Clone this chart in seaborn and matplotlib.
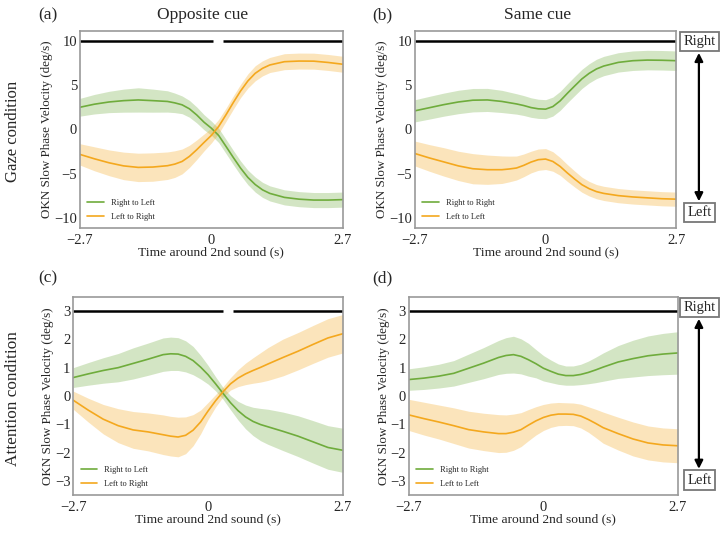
import numpy as np
import pandas as pd
import matplotlib
matplotlib.use("Agg")
import matplotlib.pyplot as plt
import seaborn as sns

# time points (s)
time = [-2.7, -2.4, -2.1, -1.8, -1.5, -1.2, -0.9, -0.75, -0.6, -0.45, -0.3, -0.15, 0.0,
        0.15, 0.3, 0.45, 0.6, 0.75, 0.9, 1.05, 1.2, 1.5, 1.8, 2.1, 2.4, 2.7]

# (a) gaze, opposite cue
a_green = [2.5, 2.85, 3.1, 3.25, 3.33, 3.25, 3.16, 3.0, 2.78, 2.33, 1.64, 0.82, 0.15,
           -0.67, -1.9, -3.15, -4.35, -5.4, -6.2, -6.8, -7.2, -7.65, -7.85, -7.95, -7.95, -7.9]
a_green_err = [1.0, 1.1, 1.2, 1.3, 1.37, 1.3, 1.2, 1.1, 1.0, 0.95, 0.9, 0.85, 0.8,
               0.8, 0.8, 0.8, 0.8, 0.82, 0.85, 0.85, 0.85, 0.85, 0.85, 0.85, 0.85, 0.85]
a_orange = [-2.8, -3.3, -3.75, -4.1, -4.27, -4.23, -4.08, -3.9, -3.6, -3.03, -2.28, -1.46, -0.67,
            0.34, 1.65, 3.03, 4.34, 5.47, 6.33, 6.89, 7.27, 7.64, 7.71, 7.7, 7.55, 7.35]
a_orange_err = [1.2, 1.35, 1.45, 1.55, 1.6, 1.6, 1.55, 1.5, 1.4, 1.25, 1.1, 0.95, 0.85,
                0.8, 0.75, 0.75, 0.75, 0.8, 0.85, 0.85, 0.85, 0.9, 0.9, 0.9, 0.9, 0.9]

# (b) gaze, same cue
b_green = [2.1, 2.45, 2.8, 3.1, 3.3, 3.33, 3.16, 3.02, 2.88, 2.7, 2.47, 2.33, 2.29,
           2.58, 3.22, 4.08, 4.9, 5.7, 6.33, 6.82, 7.15, 7.56, 7.75, 7.82, 7.8, 7.75]
b_green_err = [1.25, 1.28, 1.3, 1.32, 1.32, 1.3, 1.25, 1.2, 1.15, 1.12, 1.1, 1.08, 1.07,
               1.07, 1.07, 1.07, 1.08, 1.08, 1.08, 1.09, 1.09, 1.09, 1.1, 1.1, 1.1, 1.1]
b_orange = [-2.7, -3.2, -3.65, -4.1, -4.42, -4.53, -4.53, -4.45, -4.34, -4.04, -3.67, -3.4, -3.33,
            -3.6, -4.16, -4.9, -5.58, -6.22, -6.67, -7.0, -7.2, -7.45, -7.6, -7.7, -7.8, -7.85]
b_orange_err = [1.4, 1.5, 1.6, 1.65, 1.7, 1.65, 1.55, 1.45, 1.35, 1.28, 1.22, 1.2, 1.18,
                1.1, 1.0, 0.95, 0.9, 0.85, 0.82, 0.8, 0.8, 0.8, 0.8, 0.8, 0.8, 0.8]

# (c) attention, opposite cue
c_green = [0.65, 0.78, 0.9, 1.0, 1.15, 1.3, 1.46, 1.49, 1.48, 1.4, 1.25, 1.02, 0.75,
           0.43, 0.09, -0.24, -0.52, -0.74, -0.9, -1.01, -1.09, -1.25, -1.42, -1.62, -1.82, -1.92]
c_green_err = [0.35, 0.4, 0.45, 0.5, 0.55, 0.57, 0.59, 0.59, 0.58, 0.55, 0.5, 0.42, 0.33,
               0.25, 0.21, 0.25, 0.33, 0.42, 0.5, 0.57, 0.62, 0.68, 0.72, 0.75, 0.77, 0.78]
c_orange = [-0.15, -0.5, -0.82, -1.05, -1.2, -1.27, -1.37, -1.42, -1.45, -1.39, -1.21, -0.92, -0.53,
            -0.17, 0.15, 0.43, 0.63, 0.78, 0.9, 1.01, 1.13, 1.36, 1.58, 1.82, 2.05, 2.2]
c_orange_err = [0.32, 0.42, 0.52, 0.6, 0.65, 0.67, 0.7, 0.7, 0.7, 0.65, 0.55, 0.42, 0.3,
                0.22, 0.18, 0.22, 0.3, 0.38, 0.45, 0.52, 0.58, 0.65, 0.66, 0.67, 0.68, 0.68]

# (d) attention, same cue
d_green = [0.58, 0.63, 0.7, 0.8, 0.98, 1.16, 1.36, 1.43, 1.46, 1.4, 1.28, 1.14, 0.98,
           0.87, 0.77, 0.72, 0.72, 0.76, 0.83, 0.92, 1.02, 1.2, 1.32, 1.42, 1.48, 1.52]
d_green_err = [0.38, 0.4, 0.42, 0.45, 0.5, 0.55, 0.6, 0.63, 0.65, 0.62, 0.58, 0.5, 0.45,
               0.4, 0.36, 0.34, 0.34, 0.36, 0.4, 0.45, 0.5, 0.58, 0.65, 0.7, 0.73, 0.75]
d_orange = [-0.67, -0.8, -0.92, -1.05, -1.19, -1.27, -1.33, -1.33, -1.28, -1.19, -1.03, -0.88, -0.76,
            -0.68, -0.64, -0.64, -0.65, -0.71, -0.83, -0.97, -1.12, -1.33, -1.52, -1.66, -1.73, -1.76]
d_orange_err = [0.55, 0.58, 0.6, 0.63, 0.65, 0.66, 0.67, 0.66, 0.64, 0.6, 0.55, 0.5, 0.46,
                0.43, 0.41, 0.4, 0.4, 0.42, 0.45, 0.5, 0.55, 0.58, 0.6, 0.6, 0.6, 0.6]

# significance bars (time spans) drawn at the top of each panel
a_sig = [(-2.7, 0.03), (0.24, 2.7)]
b_sig = [(-2.7, 2.7)]
c_sig = [(-2.7, 0.30), (0.50, 2.7)]
d_sig = [(-2.7, 2.7)]

green = "#6FAC3C"
orange = "#F4A81E"

sns.set_theme(style="white")
plt.rcParams["font.family"] = ["Liberation Serif", "DejaVu Serif"]

fig = plt.figure(figsize=(7.25, 5.34), dpi=100)

panels = [
    dict(rect=[0.110, 0.573, 0.363, 0.369], g=a_green, ge=a_green_err,
         o=a_orange, oe=a_orange_err, sig=a_sig, sig_y=10, lim=11.1,
         yticks=[-10, -5, 0, 5, 10], labels=("Right to Left", "Left to Right")),
    dict(rect=[0.572, 0.573, 0.361, 0.369], g=b_green, ge=b_green_err,
         o=b_orange, oe=b_orange_err, sig=b_sig, sig_y=10, lim=11.1,
         yticks=[-10, -5, 0, 5, 10], labels=("Right to Right", "Left to Left")),
    dict(rect=[0.101, 0.073, 0.372, 0.371], g=c_green, ge=c_green_err,
         o=c_orange, oe=c_orange_err, sig=c_sig, sig_y=3, lim=3.5,
         yticks=[-3, -2, -1, 0, 1, 2, 3], labels=("Right to Left", "Left to Right")),
    dict(rect=[0.564, 0.073, 0.371, 0.371], g=d_green, ge=d_green_err,
         o=d_orange, oe=d_orange_err, sig=d_sig, sig_y=3, lim=3.5,
         yticks=[-3, -2, -1, 0, 1, 2, 3], labels=("Right to Right", "Left to Left")),
]

for p in panels:
    ax = fig.add_axes(p["rect"])
    df = pd.DataFrame({"t": time, "g": p["g"], "ge": p["ge"],
                       "o": p["o"], "oe": p["oe"]})
    ax.fill_between(df["t"], df["g"] - df["ge"], df["g"] + df["ge"],
                    color=green, alpha=0.3, lw=0)
    ax.fill_between(df["t"], df["o"] - df["oe"], df["o"] + df["oe"],
                    color=orange, alpha=0.3, lw=0)
    sns.lineplot(data=df, x="t", y="g", ax=ax, color=green, lw=1.2,
                 label=p["labels"][0])
    sns.lineplot(data=df, x="t", y="o", ax=ax, color=orange, lw=1.2,
                 label=p["labels"][1])
    for s0, s1 in p["sig"]:
        ax.plot([s0, s1], [p["sig_y"], p["sig_y"]], color="black", lw=1.8,
                solid_capstyle="butt")
    ax.set_xlim(-2.7, 2.7)
    ax.set_ylim(-p["lim"], p["lim"])
    ax.set_xticks([-2.7, 0, 2.7])
    ax.set_xticklabels(["\u22122.7", "0", "2.7"])
    ax.set_yticks(p["yticks"])
    ax.tick_params(direction="in", length=3, labelsize=10.5, color="#555555")
    ax.tick_params(axis="x", pad=4)
    ax.tick_params(axis="y", pad=2)
    ax.set_xlabel("Time around 2nd sound (s)", fontsize=9.7, labelpad=0)
    ax.set_ylabel("OKN Slow Phase Velocity (deg/s)", fontsize=9.4, labelpad=0.5)
    for sp in ax.spines.values():
        sp.set_color("#999999")
        sp.set_linewidth(1.2)
    ax.legend(loc="lower left", frameon=False, fontsize=6,
              handlelength=2.0, handletextpad=0.8, labelspacing=0.7,
              borderaxespad=0.5)

# titles and panel letters
fig.text(0.28, 0.972, "Opposite cue", fontsize=12.5, ha="center", va="center")
fig.text(0.742, 0.972, "Same cue", fontsize=12.5, ha="center", va="center")
for x, y, s in [(0.066, 0.972, "(a)"), (0.528, 0.972, "(b)"),
                (0.066, 0.478, "(c)"), (0.528, 0.478, "(d)")]:
    fig.text(x, y, s, fontsize=12.5, ha="center", va="center")
fig.text(0.018, 0.753, "Gaze condition", fontsize=12, rotation=90,
         ha="center", va="center")
fig.text(0.018, 0.253, "Attention condition", fontsize=12.4, rotation=90,
         ha="center", va="center")

# direction keys on the right
box = dict(boxstyle="square,pad=0.22", fc="white", ec="#777777", lw=1.3)
for ytop, ybot in [(0.922, 0.602), (0.424, 0.101)]:
    fig.text(0.965, ytop, "Right", fontsize=10.5, ha="center", va="center", bbox=box)
    fig.text(0.965, ybot, "Left", fontsize=10.5, ha="center", va="center", bbox=box)
    fig.add_artist(matplotlib.patches.FancyArrowPatch(
        (0.964, ytop - 0.021), (0.964, ybot + 0.021), transform=fig.transFigure,
        arrowstyle="<|-|>", mutation_scale=12, color="black", lw=1.6,
        shrinkA=0, shrinkB=0))

fig.savefig("out.png", dpi=100)
